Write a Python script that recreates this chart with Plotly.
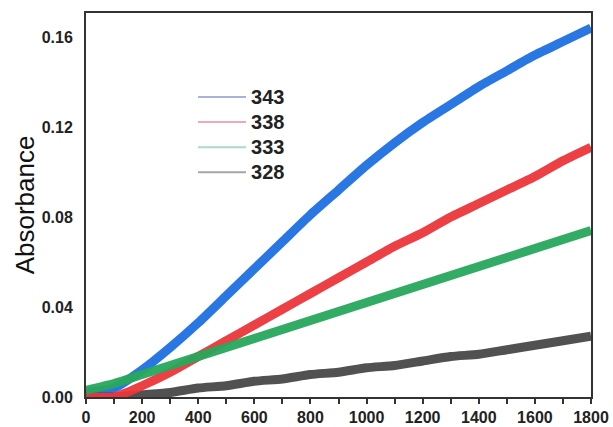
import plotly.graph_objects as go

# time (s)
time = [0, 100, 200, 300, 400, 500, 600, 700, 800, 900, 1000,
        1100, 1200, 1300, 1400, 1500, 1600, 1700, 1800]

abs_343 = [0.002, 0.004, 0.012, 0.022, 0.033, 0.045, 0.057, 0.069, 0.081, 0.092, 0.103,
           0.113, 0.122, 0.130, 0.138, 0.145, 0.152, 0.158, 0.164]
abs_338 = [0.000, 0.000, 0.005, 0.011, 0.018, 0.025, 0.032, 0.039, 0.046, 0.053, 0.060,
           0.067, 0.073, 0.080, 0.086, 0.092, 0.098, 0.105, 0.111]
abs_333 = [0.003, 0.006, 0.010, 0.014, 0.018, 0.022, 0.026, 0.030, 0.034, 0.038, 0.042,
           0.046, 0.050, 0.054, 0.058, 0.062, 0.066, 0.070, 0.074]
abs_328 = [0.000, 0.000, 0.001, 0.002, 0.004, 0.005, 0.007, 0.008, 0.010, 0.011, 0.013,
           0.014, 0.016, 0.018, 0.019, 0.021, 0.023, 0.025, 0.027]

series_names = ["343", "338", "333", "328"]
series_vals = [abs_343, abs_338, abs_333, abs_328]
band_colors = ["rgb(30,112,226)", "rgb(236,54,58)", "rgb(40,168,92)", "rgb(72,72,72)"]
legend_colors = ["#a9b3d9", "#f2a9b3", "#a9dcc6", "#a6a6a6"]

x_ticks = [0, 200, 400, 600, 800, 1000, 1200, 1400, 1600, 1800]
y_ticks = [0.00, 0.04, 0.08, 0.12, 0.16]
y_ticklabels = ["0.00", "0.04", "0.08", "0.12", "0.16"]

fig = go.Figure()

# data bands (drawing order: blue, gray, red, green on top)
for idx in [0, 3, 1, 2]:
    fig.add_trace(go.Scatter(
        x=time, y=series_vals[idx], mode="lines", name=series_names[idx],
        line=dict(color=band_colors[idx], width=9, shape="spline", smoothing=0.6),
        opacity=0.95, showlegend=False, hoverinfo="skip"))

# legend entries (thin pale sample lines)
for name, col in zip(series_names, legend_colors):
    fig.add_trace(go.Scatter(
        x=[None], y=[None], mode="lines",
        name="<span style='font-size:20px'>" + name + "</span>",
        line=dict(color=col, width=2), showlegend=True))

axis_font = dict(family="Liberation Sans, Arial, sans-serif", size=16, color="#222", weight="bold")

fig.update_layout(
    width=613, height=427,
    margin=dict(l=86, r=22, t=13, b=30),
    paper_bgcolor="white", plot_bgcolor="white",
    font=dict(family="Liberation Sans, Arial, sans-serif", color="#222"),
    showlegend=True,
    legend=dict(x=0.212, y=0.827, xanchor="left", yanchor="top",
                bgcolor="rgba(0,0,0,0)", borderwidth=0, itemwidth=48,
                font=dict(family="Liberation Sans, Arial, sans-serif", size=17,
                          color="#222", weight="bold"),
                tracegroupgap=0),
    xaxis=dict(range=[0, 1800], tickvals=x_ticks, ticktext=[str(v) for v in x_ticks],
               tickfont=axis_font, ticks="outside", ticklen=5, tickwidth=1.5, tickcolor="#333",
               minor=dict(dtick=100, ticks="outside", ticklen=5, tickwidth=1.5, tickcolor="#333"),
               showline=True, linecolor="#333", linewidth=2, mirror=True,
               showgrid=False, zeroline=False, automargin=False),
    yaxis=dict(range=[0, 0.1707], tickvals=y_ticks, ticktext=y_ticklabels,
               tickfont=axis_font, ticks="outside", ticklen=0, tickcolor="white",
               ticklabelstandoff=8,
               showline=True, linecolor="#333", linewidth=2, mirror=True,
               showgrid=False, zeroline=False, automargin=False,
               title=dict(text="Absorbance", standoff=0,
                          font=dict(family="Liberation Sans, Arial, sans-serif", size=26, color="#111"))),
)

fig.write_html("out.html", config={"displayModeBar": False},
               post_script="document.body.style.margin='0';document.body.style.overflow='hidden';")
